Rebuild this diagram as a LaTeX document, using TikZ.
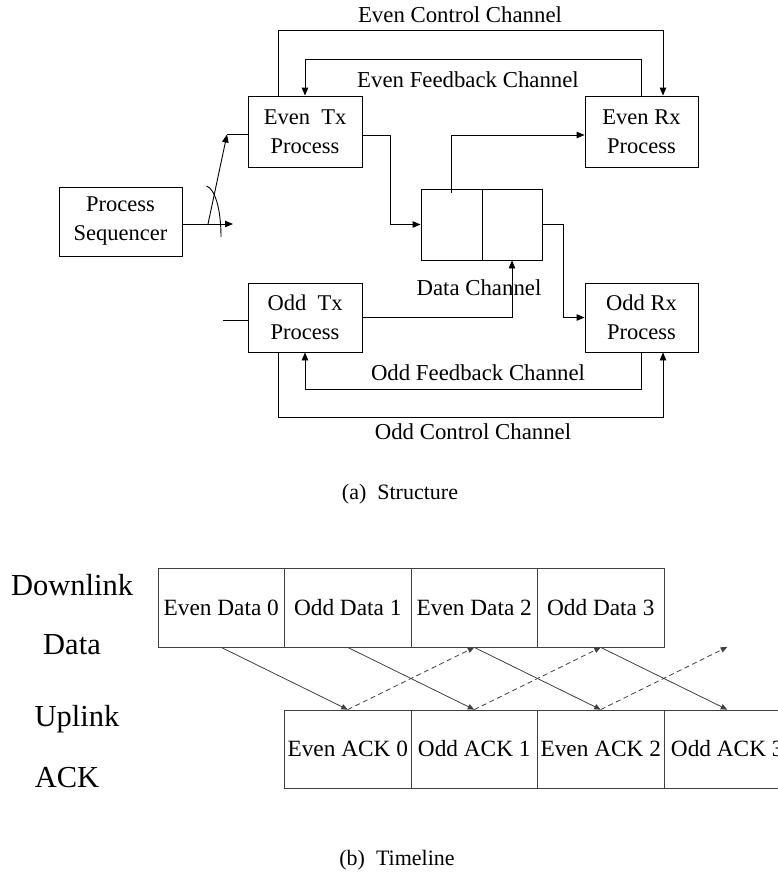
\documentclass[tikz,border=0pt]{standalone}
\usepackage{fontspec}
\setmainfont{Liberation Serif}
\usetikzlibrary{arrows.meta,calc}

\tikzset{
  box/.style={draw, line width=0.9pt, inner sep=0pt, align=center,
              font=\fontsize{22.5}{29}\selectfont},
  lbl/.style={inner sep=0pt, font=\fontsize{22.8}{26}\selectfont},
  captext/.style={inner sep=0pt, font=\fontsize{22}{25}\selectfont},
  link/.style={line width=0.9pt},
  arr/.style={link, -{Triangle[length=8pt,width=6.5pt]}},
  cell/.style={draw=black!75, line width=0.8pt, inner sep=0pt,
               minimum width=126.5pt, font=\fontsize{23.3}{27}\selectfont},
  side/.style={inner sep=0pt, font=\fontsize{30.5}{34}\selectfont},
  tl/.style={draw=black!75, line width=0.8pt, -{Triangle[length=6.5pt,width=5.5pt]}},
  tldash/.style={tl, dashed, dash pattern=on 5pt off 3.5pt},
}

\begin{document}
\begin{tikzpicture}[x=1pt, y=-1pt]
\clip (0,0) rectangle (778,875);

% ---------------- structure ----------------
\node[box, minimum width=123pt, minimum height=69pt] (seq) at (120.5,221.5) {Process\\Sequencer};
\node[box, minimum width=114pt, minimum height=71pt] (etx) at (305,131.5) {Even\ \ Tx\\Process};
\node[box, minimum width=113pt, minimum height=71pt] (erx) at (641.5,131.5) {Even Rx\\Process};
\node[box, minimum width=114pt, minimum height=69pt] (otx) at (305,317.5) {Odd\ \ Tx\\Process};
\node[box, minimum width=113pt, minimum height=69pt] (orx) at (641.5,317.5) {Odd Rx\\Process};
\node[box, minimum width=61pt, minimum height=71pt] (dataL) at (451.5,224.5) {};
\node[box, minimum width=60pt, minimum height=71pt] (dataR) at (512,224.5) {};

\node[lbl] (tEC) at (460,15)  {Even Control Channel};
\node[lbl] (tEF) at (468,80)  {Even Feedback Channel};
\node[lbl] (tDC) at (479,288) {Data Channel};
\node[lbl] (tOF) at (478,373) {Odd Feedback Channel};
\node[lbl] (tOC) at (473,432) {Odd Control Channel};
\node[captext] (capA) at (400,494) {(a)\ \ Structure};

% control and feedback loops
\draw[arr] ([xshift=-27pt]etx.north) -- ++(0,-65) -| ([xshift=21.5pt]erx.north);
\draw[arr] (erx.north) -- ++(0,-36) -| (etx.north);
\draw[arr] (orx.south) -- ++(0,37) -| (otx.south);
\draw[arr] ([xshift=-27pt]otx.south) -- ++(0,65) -| ([xshift=21.5pt]orx.south);

% data channel
\draw[arr] ([yshift=-3.5pt]etx.east) -| ($(dataL.west)+(-30,0)$) -- (dataL.west);
\draw[arr] ([yshift=-4pt]dataL.north) |- ([yshift=-3.5pt]erx.west);
\draw[arr] (dataR.east) -- ++(21,0) |- (orx.west);
\draw[arr] (otx.east) -| (dataR.south);

% sequencer switch
\coordinate (sout) at (233,224);
\coordinate (sw) at (208,224);
\coordinate (stop) at (227,134.5);
\coordinate (oin) at (223,320);
\draw[arr] ([yshift=-2.5pt]seq.east) -- (sout);
\draw[arr] (sw) -- (stop);
\draw[link] (stop) -- (stop -| etx.west);
\draw[link] (206.5,186) .. controls (215,189) and (221,209) .. (221,237);
\draw[link] (oin) -- (oin -| otx.west);

% ---------------- timeline ----------------
\node[cell, minimum height=79pt] (d0) at (221.25,607.5) {Even Data 0};
\node[cell, minimum height=79pt] (d1) at (347.75,607.5) {Odd Data 1};
\node[cell, minimum height=79pt] (d2) at (474.25,607.5) {Even Data 2};
\node[cell, minimum height=79pt] (d3) at (600.75,607.5) {Odd Data 3};
\node[cell, minimum height=78pt] (a0) at (347.75,749) {Even ACK 0};
\node[cell, minimum height=78pt] (a1) at (474.25,749) {Odd ACK 1};
\node[cell, minimum height=78pt] (a2) at (600.75,749) {Even ACK 2};
\node[cell, minimum height=78pt] (a3) at (727.25,749) {Odd ACK 3};
\coordinate (d4) at (727.25,647);

\node[side] (sDown) at (72,585) {Downlink};
\node[side] (sData) at (72,645) {Data};
\node[side] (sUp)   at (77,719) {Uplink};
\node[side] (sAck)  at (67,778) {ACK};
\node[captext] (capB) at (397,860) {(b)\ \ Timeline};

\draw[tl] (d0.south) -- (a0.north);
\draw[tl] (d1.south) -- (a1.north);
\draw[tl] (d2.south) -- (a2.north);
\draw[tl] (d3.south) -- (a3.north);
\draw[tldash] (a0.north) -- (d2.south);
\draw[tldash] (a1.north) -- (d3.south);
\draw[tldash] (a2.north) -- (d4);
\end{tikzpicture}
\end{document}
